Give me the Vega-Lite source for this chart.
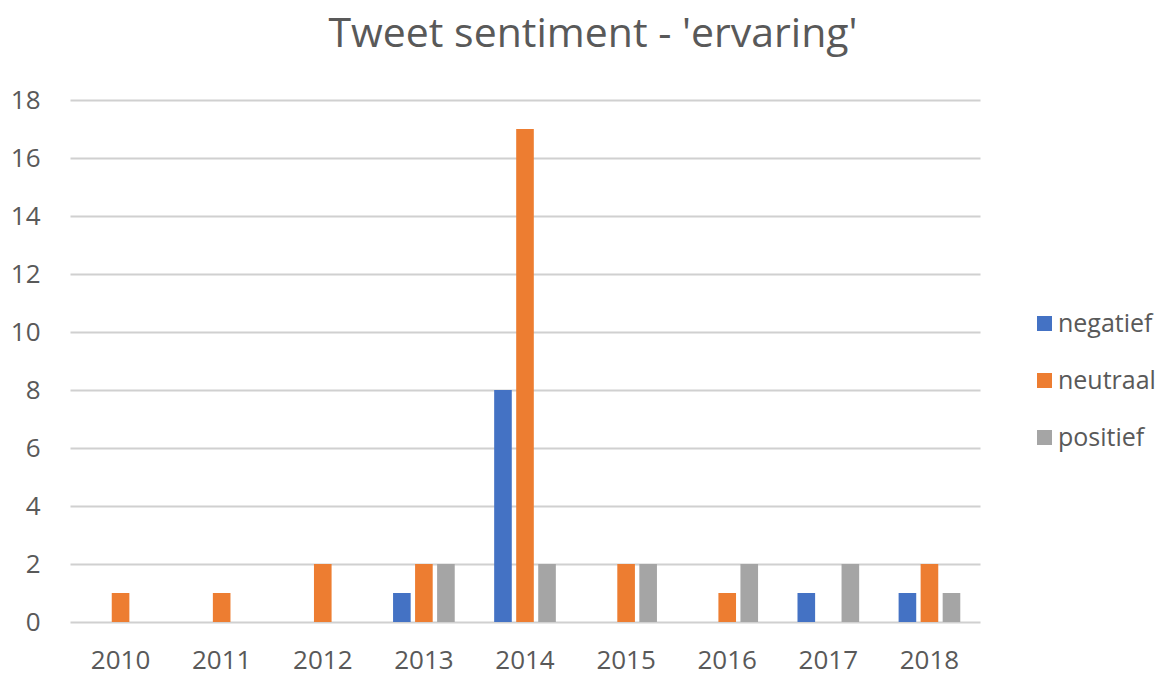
{
  "$schema": "https://vega.github.io/schema/vega-lite/v6.json",
  "autosize": "none",
  "width": 910,
  "height": 522,
  "padding": {"left": 70, "top": 100, "right": 188, "bottom": 53},
  "background": "white",
  "title": {
    "text": "Tweet sentiment - 'ervaring'",
    "font": "Open Sans",
    "fontSize": 41,
    "fontWeight": "normal",
    "color": "#595959",
    "anchor": "middle",
    "dx": 68,
    "offset": 31
  },
  "data": {
    "values": [
      {"jaar": "2010", "sentiment": "negatief", "aantal": 0},
      {"jaar": "2010", "sentiment": "neutraal", "aantal": 1},
      {"jaar": "2010", "sentiment": "positief", "aantal": 0},
      {"jaar": "2011", "sentiment": "negatief", "aantal": 0},
      {"jaar": "2011", "sentiment": "neutraal", "aantal": 1},
      {"jaar": "2011", "sentiment": "positief", "aantal": 0},
      {"jaar": "2012", "sentiment": "negatief", "aantal": 0},
      {"jaar": "2012", "sentiment": "neutraal", "aantal": 2},
      {"jaar": "2012", "sentiment": "positief", "aantal": 0},
      {"jaar": "2013", "sentiment": "negatief", "aantal": 1},
      {"jaar": "2013", "sentiment": "neutraal", "aantal": 2},
      {"jaar": "2013", "sentiment": "positief", "aantal": 2},
      {"jaar": "2014", "sentiment": "negatief", "aantal": 8},
      {"jaar": "2014", "sentiment": "neutraal", "aantal": 17},
      {"jaar": "2014", "sentiment": "positief", "aantal": 2},
      {"jaar": "2015", "sentiment": "negatief", "aantal": 0},
      {"jaar": "2015", "sentiment": "neutraal", "aantal": 2},
      {"jaar": "2015", "sentiment": "positief", "aantal": 2},
      {"jaar": "2016", "sentiment": "negatief", "aantal": 0},
      {"jaar": "2016", "sentiment": "neutraal", "aantal": 1},
      {"jaar": "2016", "sentiment": "positief", "aantal": 2},
      {"jaar": "2017", "sentiment": "negatief", "aantal": 1},
      {"jaar": "2017", "sentiment": "neutraal", "aantal": 0},
      {"jaar": "2017", "sentiment": "positief", "aantal": 2},
      {"jaar": "2018", "sentiment": "negatief", "aantal": 1},
      {"jaar": "2018", "sentiment": "neutraal", "aantal": 2},
      {"jaar": "2018", "sentiment": "positief", "aantal": 1}
    ]
  },
  "mark": {"type": "bar"},
  "encoding": {
    "x": {
      "field": "jaar",
      "type": "nominal",
      "scale": {"paddingInner": 0.39, "paddingOuter": 0.195},
      "axis": {
        "title": null,
        "labelAngle": 0,
        "labelFont": "Open Sans",
        "labelFontSize": 26,
        "labelColor": "#595959",
        "labelBaseline": "alphabetic",
        "labelPadding": 46,
        "ticks": false,
        "domain": false,
        "grid": false
      }
    },
    "xOffset": {
      "field": "sentiment",
      "type": "nominal",
      "scale": {"paddingInner": 0.2, "paddingOuter": 0}
    },
    "y": {
      "field": "aantal",
      "type": "quantitative",
      "scale": {"domain": [0, 18]},
      "axis": {
        "title": null,
        "values": [0, 2, 4, 6, 8, 10, 12, 14, 16, 18],
        "labelFont": "Open Sans",
        "labelFontSize": 26,
        "labelColor": "#595959",
        "labelPadding": 30,
        "ticks": false,
        "domain": false,
        "grid": true,
        "gridColor": "#d0d0d0",
        "gridWidth": 2
      }
    },
    "color": {
      "field": "sentiment",
      "type": "nominal",
      "scale": {
        "domain": ["negatief", "neutraal", "positief"],
        "range": ["#4472C4", "#ED7D31", "#A5A5A5"]
      },
      "legend": {
        "title": null,
        "orient": "none",
        "legendX": 962,
        "legendY": 211,
        "symbolType": "square",
        "symbolSize": 225,
        "symbolStrokeWidth": 0,
        "labelFont": "Open Sans",
        "labelFontSize": 25,
        "labelColor": "#595959",
        "labelOffset": 1,
        "rowPadding": 31
      }
    }
  },
  "config": {"view": {"stroke": null}}
}
